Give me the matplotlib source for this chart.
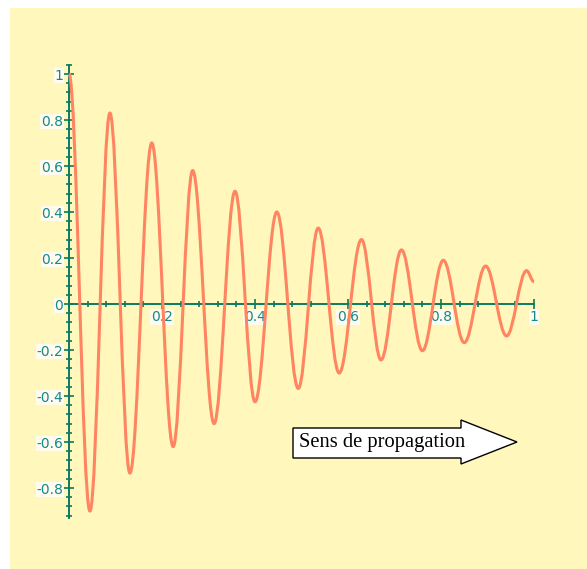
"""Damped wave along a string, with a 'propagation' arrow."""

import matplotlib

matplotlib.use("Agg")
from matplotlib import pyplot as plt
from matplotlib.patches import PathPatch, Polygon, Rectangle
from matplotlib.path import Path
from matplotlib.ticker import MultipleLocator

# extrema of the wave (last point is the curve end at x=1)
ext_x = [0.0, 0.045, 0.088, 0.131, 0.178, 0.224, 0.266, 0.312, 0.357, 0.400,
         0.447, 0.493, 0.536, 0.581, 0.629, 0.671, 0.715, 0.760, 0.805, 0.850,
         0.896, 0.941, 0.984, 1.0]
ext_y = [1.0, -0.90, 0.83, -0.735, 0.70, -0.62, 0.58, -0.52, 0.49, -0.425,
         0.40, -0.367, 0.33, -0.30, 0.28, -0.243, 0.235, -0.203, 0.19, -0.168,
         0.165, -0.139, 0.145, 0.097]

x_ticks = [0.2, 0.4, 0.6, 0.8, 1.0]
x_labels = ["0.2", "0.4", "0.6", "0.8", "1"]
y_ticks = [-0.8, -0.6, -0.4, -0.2, 0.0, 0.2, 0.4, 0.6, 0.8, 1.0]
y_labels = ["-0.8", "-0.6", "-0.4", "-0.2", "0", "0.2", "0.4", "0.6", "0.8", "1"]

W, H = 587, 569
BG = "#FFF7BB"
AXIS = "#0B7A62"
LABEL = "#14898A"
WAVE = "#FF8462"


def px(x, y):
    """Top-left pixel position -> figure fraction."""
    return x / W, 1 - y / H


fig = plt.figure(figsize=(W / 100, H / 100), dpi=100, facecolor="white")
x0, y0 = px(10, 569)
x1, y1 = px(587, 8)
fig.patches.append(Rectangle((x0, y0), x1 - x0, y1 - y0, transform=fig.transFigure,
                             facecolor=BG, edgecolor="none", zorder=-5))

left, top = px(69, 64.8)
right, bottom = px(534, 517.9)
ax = fig.add_axes([left, bottom, right - left, top - bottom])
ax.set_zorder(2)
ax.set_facecolor("none")
ax.set_xlim(0, 1)
ax.set_ylim(-0.93, 1.04)

for side in ("top", "right"):
    ax.spines[side].set_visible(False)
ax.spines["left"].set_position(("data", 0))
ax.spines["bottom"].set_position(("data", 0))
for side in ("left", "bottom"):
    ax.spines[side].set_color(AXIS)
    ax.spines[side].set_linewidth(1.4)

ax.set_xticks(x_ticks, x_labels)
ax.set_yticks(y_ticks, y_labels)
ax.xaxis.set_minor_locator(MultipleLocator(0.04))
ax.yaxis.set_minor_locator(MultipleLocator(0.04))
ax.tick_params(which="both", direction="inout", color=AXIS, width=1.2,
               labelcolor=LABEL, labelsize=10)
ax.tick_params(which="major", length=7.5, pad=0.4)
ax.tick_params(which="minor", length=4.5)
for lab in ax.get_xticklabels() + ax.get_yticklabels():
    lab.set_bbox(dict(facecolor="#FFFBEF", edgecolor="none", pad=0.6))

# smooth wave: cubic segments between successive extrema (flat at each extremum)
verts = [(ext_x[0], ext_y[0])]
codes = [Path.MOVETO]
for i in range(1, len(ext_x)):
    h = ext_x[i] - ext_x[i - 1]
    verts += [(ext_x[i - 1] + 0.364 * h, ext_y[i - 1]),
              (ext_x[i] - 0.364 * h, ext_y[i]),
              (ext_x[i], ext_y[i])]
    codes += [Path.CURVE4] * 3
ax.add_patch(PathPatch(Path(verts, codes), fill=False, edgecolor=WAVE,
                       linewidth=2.2, clip_on=False, zorder=3))

# "Sens de propagation" arrow
arrow = [px(293, 428), px(461, 428), px(461, 420), px(517, 442),
         px(461, 464), px(461, 458), px(293, 458)]
fig.patches.append(Polygon(arrow, closed=True, transform=fig.transFigure,
                           facecolor="white", edgecolor="black", linewidth=1.0,
                           zorder=5))
tx, ty = px(299, 443)
fig.text(tx, ty, "Sens de propagation", family="Liberation Serif", fontsize=14.8,
         ha="left", va="center", zorder=6)

fig.savefig("out.png", dpi=100, facecolor="white")
